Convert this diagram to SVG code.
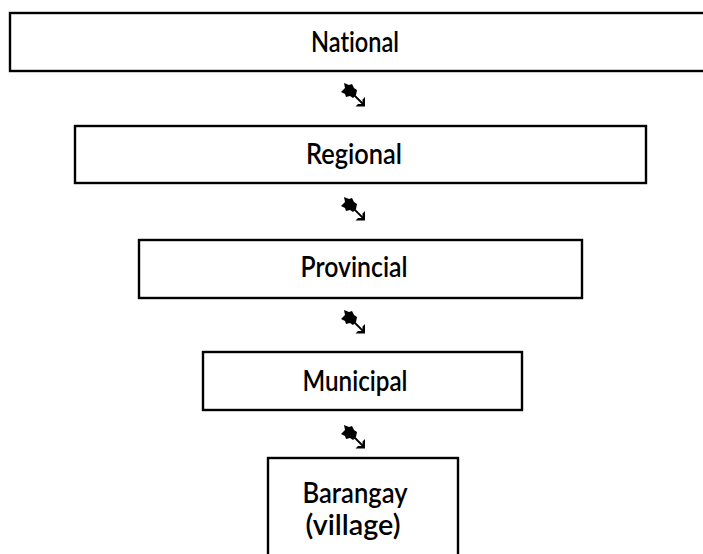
<svg xmlns="http://www.w3.org/2000/svg" width="703" height="554" viewBox="0 0 703 554">
<style>
.box{fill:#fff;stroke:#000;stroke-width:2.4}
.lbl{font-family:Lato,"Liberation Sans",Arial,sans-serif;font-weight:600;font-size:28px;fill:#000;text-anchor:middle;font-variant-ligatures:none;font-feature-settings:"liga" 0,"dlig" 0}
</style>
<defs>
<g id="arw">
<path d="M0,9 L4,5 L3,0 L8,2 L11,1 L13,5 L16,7 L15,12 L12,15 L9,13 L5,14 L4,11 Z" fill="#000"/>
<line x1="12" y1="11" x2="22" y2="21" stroke="#000" stroke-width="1.8"/>
<path d="M24,14 L24,23.5 L14.5,23.5 L17,21 L21.5,21 L21.5,16.5 Z" fill="#000"/>
</g>
</defs>
<rect width="703" height="554" fill="#fff"/>
<g id="connectors">
<use href="#arw" x="341" y="83"/>
<use href="#arw" x="341" y="197"/>
<use href="#arw" x="341" y="310"/>
<use href="#arw" x="341" y="425"/>
</g>
<g id="national">
<rect class="box" x="10" y="13" width="705" height="58"/>
<text class="lbl" x="355" y="52" textLength="88" lengthAdjust="spacingAndGlyphs">National</text>
</g>
<g id="regional">
<rect class="box" x="75" y="126" width="571" height="57"/>
<text class="lbl" x="354" y="164" textLength="96" lengthAdjust="spacingAndGlyphs">Regional</text>
</g>
<g id="provincial">
<rect class="box" x="139" y="240" width="443" height="58"/>
<text class="lbl" x="354" y="277" textLength="107" lengthAdjust="spacingAndGlyphs">Provincial</text>
</g>
<g id="municipal">
<rect class="box" x="203" y="352" width="319" height="58"/>
<text class="lbl" x="355" y="391" textLength="105" lengthAdjust="spacingAndGlyphs">Municipal</text>
</g>
<g id="barangay">
<rect class="box" x="268" y="458" width="190" height="110"/>
<text class="lbl" x="355" y="503" textLength="105" lengthAdjust="spacingAndGlyphs">Barangay</text>
<text class="lbl" x="353" y="535" textLength="95" lengthAdjust="spacingAndGlyphs">(village)</text>
</g>
</svg>
